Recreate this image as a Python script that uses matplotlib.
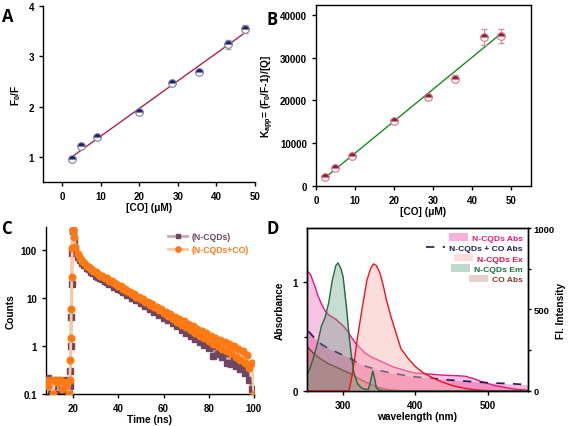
import numpy as np
import matplotlib
matplotlib.use("Agg")
import matplotlib.pyplot as plt
from matplotlib.patches import Patch
from matplotlib.lines import Line2D
from matplotlib.ticker import FixedLocator, NullLocator, FuncFormatter

plt.rcParams['font.family'] = ['Liberation Sans', 'DejaVu Sans']
plt.rcParams['font.weight'] = 'bold'
plt.rcParams['axes.labelweight'] = 'bold'
plt.rcParams['mathtext.fontset'] = 'custom'
plt.rcParams['mathtext.rm'] = 'Liberation Sans:bold'
plt.rcParams['mathtext.it'] = 'Liberation Sans:bold'
plt.rcParams['mathtext.bf'] = 'Liberation Sans:bold'
plt.rcParams['mathtext.default'] = 'rm'
plt.rcParams['axes.linewidth'] = 1.0
plt.rcParams['xtick.major.size'] = 3
plt.rcParams['ytick.major.size'] = 3
plt.rcParams['xtick.minor.size'] = 2
plt.rcParams['ytick.minor.size'] = 2

# ---------------- Data ----------------
co_conc = [2.4, 4.8, 9.1, 20.0, 28.6, 35.5, 42.9, 47.4]
f0_f = [0.95, 1.21, 1.39, 1.90, 2.46, 2.69, 3.24, 3.54]
f0_f_err = [0.04, 0.04, 0.04, 0.04, 0.05, 0.05, 0.09, 0.08]
kapp = [2200, 4100, 7100, 15100, 20800, 25100, 34800, 35100]
kapp_err = [400, 400, 500, 500, 700, 900, 1800, 1700]

t_ns = [8, 9, 10, 11, 12, 13, 14, 15, 16, 17, 18, 18.5, 18.8, 19.0, 19.2, 19.4, 19.6, 19.8, 20.0,
        20.5, 21, 22, 23, 24, 25, 26, 27, 28, 29, 30,
        31, 32, 33, 34, 35, 36, 37, 38, 39, 40,
        41, 42, 43, 44, 45, 46, 47, 48, 49, 50,
        51, 52, 53, 54, 55, 56, 57, 58, 59, 60,
        61, 62, 63, 64, 65, 66, 67, 68, 69, 70,
        71, 72, 73, 74, 75, 76, 77, 78, 79, 80,
        81, 82, 83, 84, 85, 86, 87, 88, 89, 90,
        91, 92, 93, 94, 95, 96, 97, 98, 99, 100]
counts_cqd = [0.15, 0.22, 0.1, 0.15, 0.1, 0.2, 0.1, 0.15, 0.12, 0.2, 0.1, 0.15, 0.3, 1.0, 4, 20, 85, 250, 250,
              165, 100, 73, 61, 53, 48, 43, 40, 35.5, 33, 29,
              28, 25.5, 25, 22.5, 22, 19.5, 19.3, 17.2, 17, 15.2,
              15, 13.4, 13.3, 11.7, 11.7, 10.2, 10.3, 9.0, 9.1, 7.9,
              8.0, 6.9, 7.0, 6.0, 6.2, 5.2, 5.4, 4.5, 4.8, 3.9,
              4.2, 3.4, 3.7, 2.95, 3.3, 2.55, 2.9, 2.2, 2.55, 1.9,
              2.25, 1.6, 1.95, 1.4, 1.7, 1.2, 1.5, 1.05, 1.3, 0.9,
              1.15, 0.62, 1.0, 0.68, 0.9, 0.58, 0.8, 0.45, 0.7, 0.42,
              0.6, 0.38, 0.52, 0.33, 0.45, 0.28, 0.38, 0.2, 0.13, 0.1]
counts_cqd_co = [0.2, 0.15, 0.2, 0.1, 0.2, 0.18, 0.2, 0.13, 0.18, 0.15, 0.1, 0.2, 0.5, 1.5, 6, 28, 110, 260, 255,
                 190, 115, 82, 68, 58, 53, 47, 44, 40, 36, 34,
                 31.5, 29, 28.5, 26, 25.5, 23, 22.5, 20.3, 20, 17.8,
                 17.4, 15.7, 15.3, 13.8, 13.6, 12.2, 12.0, 10.7, 10.7, 9.5,
                 9.5, 8.3, 8.4, 7.3, 7.5, 6.4, 6.6, 5.6, 5.8, 4.9,
                 5.2, 4.3, 4.6, 3.7, 4.1, 3.2, 3.6, 2.8, 3.25, 2.5,
                 2.9, 2.15, 2.6, 1.9, 2.3, 1.65, 2.05, 1.45, 1.85, 1.3,
                 1.65, 1.1, 1.5, 1.0, 1.35, 0.88, 1.2, 0.78, 1.1, 0.7,
                 0.98, 0.6, 0.88, 0.52, 0.78, 0.45, 0.65, 0.35, 0.45, 0.1]

wl_abs = [250, 255, 260, 265, 270, 275, 280, 285, 290, 295, 300, 305, 310, 315, 320, 330, 340, 350,
          360, 370, 380, 390, 400, 420, 440, 460, 470, 480, 490, 500, 510, 520, 530, 540, 550, 556]
abs_cqd = [1.11, 1.07, 0.98, 0.88, 0.80, 0.74, 0.70, 0.68, 0.66, 0.63, 0.60, 0.56, 0.51, 0.46, 0.42, 0.35, 0.31, 0.28,
           0.25, 0.22, 0.20, 0.18, 0.165, 0.155, 0.145, 0.14, 0.135, 0.115, 0.09, 0.07, 0.05, 0.038, 0.025, 0.015, 0.01, 0.006]

wl_mix = [252, 260, 270, 280, 290, 300, 310, 320, 330, 340, 350, 360, 380, 400, 420, 440, 460, 480, 500, 520, 540, 556]
abs_mix = [0.55, 0.49, 0.43, 0.39, 0.36, 0.33, 0.30, 0.26, 0.23, 0.21, 0.19, 0.175, 0.15, 0.13, 0.118, 0.105,
           0.095, 0.085, 0.076, 0.07, 0.064, 0.058]

wl_co = [250, 260, 270, 280, 290, 300, 310, 320, 330, 340, 350, 360, 370, 380, 390, 556]
abs_co = [0.41, 0.34, 0.29, 0.25, 0.22, 0.19, 0.16, 0.12, 0.085, 0.055, 0.03, 0.015, 0.007, 0.003, 0.0, 0.0]

wl_em = [250, 255, 260, 265, 270, 275, 280, 285, 290, 293, 297, 300, 305, 308, 311, 315, 320, 325,
         330, 335, 338, 341, 343, 346, 350, 360, 556]
fl_em = [95, 150, 220, 300, 400, 450, 540, 680, 770, 786, 750, 700, 500, 350, 233, 110, 45, 20,
         10, 10, 60, 122, 90, 20, 5, 0, 0]

wl_ex = [250, 308, 310, 313, 316, 320, 326, 333, 338, 342, 346, 351, 356, 360, 366, 372, 380, 390,
         400, 410, 420, 430, 440, 450, 460, 470, 480, 490, 500, 520, 556]
fl_ex = [0, 0, 40, 110, 200, 330, 497, 680, 750, 780, 770, 724, 640, 558, 460, 374, 260, 200,
         150, 115, 90, 68, 50, 35, 24, 15, 9, 5, 2, 0, 0]

# ---------------- Figure ----------------
fig = plt.figure(figsize=(5.68, 4.27), dpi=100)
fs_tick = 7
fs_lab = 7.3
fs_letter = 12

# Panel A
axA = fig.add_axes([0.0757, 0.5714, 0.373, 0.4122])
pA = np.polyfit(co_conc, f0_f, 1)
xf = np.array([co_conc[0], co_conc[-1]])
axA.plot(xf, np.polyval(pA, xf), color='#b0204e', lw=1.0, zorder=2)
axA.errorbar(co_conc, f0_f, yerr=f0_f_err, fmt='none', ecolor='#a8a8b0', elinewidth=0.8, capsize=2, zorder=3)
axA.plot(co_conc, f0_f, 'o', ms=5.5, fillstyle='top', markerfacecolor='#1c1c6e',
         markerfacecoloralt='white', markeredgecolor='#8080a0', markeredgewidth=0.8, zorder=4)
axA.set_xlim(-5, 50)
axA.set_ylim(0.5, 4)
axA.set_xticks([0, 10, 20, 30, 40, 50])
axA.set_yticks([1, 2, 3, 4])
axA.spines['top'].set_visible(False)
axA.spines['right'].set_visible(False)
axA.tick_params(labelsize=fs_tick, direction='out', width=1)
axA.set_xlabel('[CO] (\u03bcM)', fontsize=fs_lab, labelpad=1)
axA.set_ylabel('F$_0$/F', fontsize=fs_lab, labelpad=4)

# Panel B
axB = fig.add_axes([0.5563, 0.5621, 0.3786, 0.4239])
pB = np.polyfit(co_conc, kapp, 1)
axB.plot(xf, np.polyval(pB, xf), color='#1a8a1a', lw=1.0, zorder=2)
axB.errorbar(co_conc, kapp, yerr=kapp_err, fmt='none', ecolor='#d8909c', elinewidth=0.8, capsize=2, zorder=3)
axB.plot(co_conc, kapp, 'o', ms=5.5, fillstyle='top', markerfacecolor='#8a1a3c',
         markerfacecoloralt='white', markeredgecolor='#d87888', markeredgewidth=0.8, zorder=4)
axB.set_xlim(0, 55)
axB.set_ylim(0, 42300)
axB.set_xticks([0, 10, 20, 30, 40, 50])
axB.set_yticks([0, 10000, 20000, 30000, 40000])
axB.tick_params(labelsize=fs_tick, direction='out', width=1)
axB.set_xlabel('[CO] (\u03bcM)', fontsize=fs_lab, labelpad=1)
axB.set_ylabel('K$_{app}$= (F$_0$/F-1)/[Q]', fontsize=fs_lab, labelpad=3)

# Panel C
axC = fig.add_axes([0.081, 0.0749, 0.366, 0.391])
axC.plot(t_ns, counts_cqd, '-', color='#c8a8b8', lw=2.0, marker='s', ms=4.2,
         markerfacecolor='#6e4860', markeredgecolor='#6e4860', label='(N-CQDs)', zorder=2)
axC.plot(t_ns, counts_cqd_co, '-', color='#ffc8a0', lw=2.0, marker='o', ms=4.8,
         markerfacecolor='#ff7a14', markeredgecolor='#ff7a14', label='(N-CQDs+CO)', zorder=3)
axC.set_yscale('log')
axC.set_xlim(8, 100)
axC.set_ylim(0.1, 300)
axC.set_xticks([20, 40, 60, 80, 100])
axC.yaxis.set_major_locator(FixedLocator([0.1, 1, 10, 100]))
axC.yaxis.set_minor_locator(NullLocator())
axC.yaxis.set_major_formatter(FuncFormatter(lambda v, p: ('%g' % v)))
axC.spines['top'].set_visible(False)
axC.spines['right'].set_visible(False)
axC.tick_params(labelsize=fs_tick, direction='out', width=1)
axC.set_xlabel('Time (ns)', fontsize=fs_lab, labelpad=1)
axC.set_ylabel('Counts', fontsize=fs_lab, labelpad=4)
legC = axC.legend(loc='upper right', frameon=False, fontsize=6.2, handlelength=2.2,
                  borderaxespad=0.2, labelspacing=0.45, handletextpad=0.5, markerscale=0.8)
for t, c in zip(legC.get_texts(), ['#6e4860', '#ff7a14']):
    t.set_color(c)

# Panel D
axD = fig.add_axes([0.5405, 0.082, 0.389, 0.3817])
axD2 = axD.twinx()
c_abs_line, c_abs_fill = '#e8157e', '#f07cc4'
c_mix = '#1a1a5a'
c_ex_line, c_ex_fill = '#e8141e', '#f8b4b0'
c_em_line, c_em_fill = '#1d6b3e', '#5fa07c'
c_co_line, c_co_fill = '#8b3528', '#b46a58'

axD.fill_between(wl_abs, abs_cqd, 0, color=c_abs_fill, alpha=0.45, lw=0)
axD.fill_between(wl_mix, abs_mix, 0, color='#e8157e', alpha=0.3, lw=0)
axD.fill_between(wl_co, abs_co, 0, color=c_co_fill, alpha=0.45, lw=0)
axD.plot(wl_abs, abs_cqd, color=c_abs_line, lw=1.0)
axD.plot(wl_co, abs_co, color=c_co_line, lw=1.0)
axD.plot(wl_mix, abs_mix, color=c_mix, lw=1.2, dashes=(5, 5))
axD2.fill_between(wl_ex, fl_ex, 0, color=c_ex_fill, alpha=0.45, lw=0)
axD2.fill_between(wl_em, fl_em, 0, color=c_em_fill, alpha=0.35, lw=0)
axD2.plot(wl_ex, fl_ex, color=c_ex_line, lw=1.0)
axD2.plot(wl_em, fl_em, color=c_em_line, lw=1.0)

axD.set_xlim(250, 556)
axD.set_ylim(0, 1.5)
axD2.set_ylim(0, 1000)
axD.set_xticks([300, 400, 500])
axD.set_yticks([0, 1])
axD.yaxis.set_minor_locator(FixedLocator([0.5]))
axD2.set_yticks([0, 500, 1000])
axD2.yaxis.set_minor_locator(FixedLocator([250, 750]))
axD.tick_params(labelsize=fs_tick, direction='out', width=1)
axD.tick_params(which='minor', direction='out', width=1)
axD2.tick_params(labelsize=6.8, direction='out', width=1, length=2.5, pad=1.5)
axD2.tick_params(which='minor', direction='out', width=1)
axD.set_xlabel('wavelength (nm)', fontsize=fs_lab, labelpad=1)
axD.set_ylabel('Absorbance', fontsize=fs_lab, labelpad=6)
axD2.set_ylabel('Fl. Intensity', fontsize=fs_lab, labelpad=1)

handles = [Patch(facecolor=c_abs_fill, alpha=0.6, lw=0),
           Line2D([], [], color=c_mix, lw=1.2, dashes=(5, 5)),
           Patch(facecolor=c_ex_fill, alpha=0.45, lw=0),
           Patch(facecolor=c_em_fill, alpha=0.4, lw=0),
           Patch(facecolor=c_co_fill, alpha=0.3, lw=0)]
labels = ['N-CQDs Abs', 'N-CQDs + CO Abs', 'N-CQDs Ex', 'N-CQDs Em', 'CO Abs']
legD = axD2.legend(handles, labels, loc='upper right', frameon=False, fontsize=6.1,
                   handlelength=2.2, handleheight=1.0, borderaxespad=0.2, labelspacing=0.2,
                   handletextpad=0.5)
for col in legD._legend_handle_box.get_children():
    col.align = 'right'
for t, c in zip(legD.get_texts(), [c_abs_line, c_mix, '#e0104a', c_em_line, c_co_line]):
    t.set_color(c)

# Panel letters
for lab, x, y in [('A', 0.004, 0.948), ('B', 0.470, 0.942), ('C', 0.004, 0.452), ('D', 0.470, 0.452)]:
    fig.text(x, y, lab, fontsize=fs_letter, fontweight='bold', family=['Open Sans', 'DejaVu Sans'])

fig.savefig('out.png', dpi=100)
